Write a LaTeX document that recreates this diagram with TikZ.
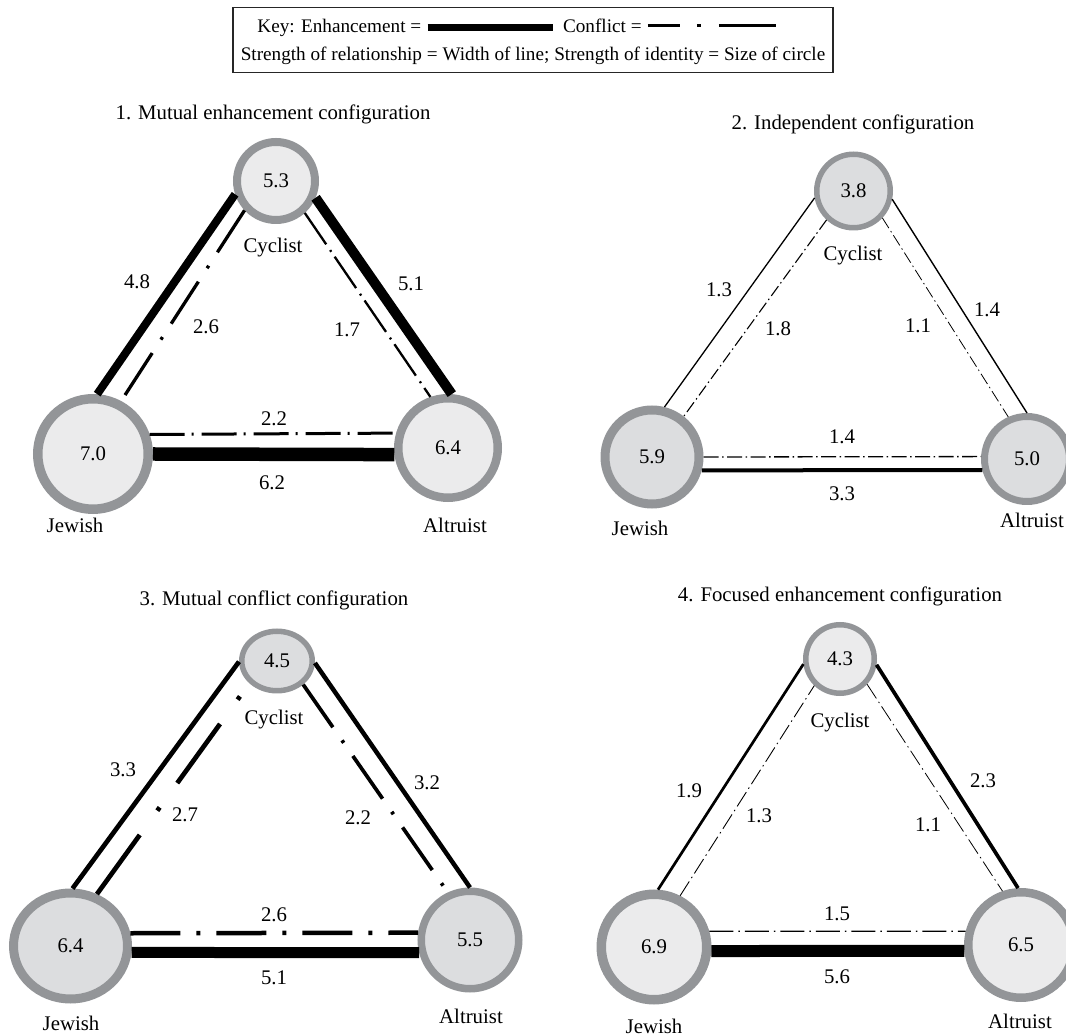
\documentclass[tikz,border=0pt]{standalone}
\usepackage{fontspec}
\setmainfont{Liberation Serif}
\usetikzlibrary{shapes.geometric}
\definecolor{ringgray}{HTML}{939598}
\definecolor{idlight}{HTML}{EBEBEC}
\definecolor{iddark}{HTML}{DCDDDF}
\begin{document}
\begin{tikzpicture}[x=0.5pt, y=-0.5pt,
    every node/.style={font=\fontsize{10.4}{12}\selectfont, inner sep=0pt},
    keytext/.style={font=\fontsize{9.6}{11}\selectfont},
    ident/.style={draw=ringgray, fill=#1},
    enh/.style={line width=#1pt},
    conf/.style={line width=#1pt}]
\useasboundingbox (0,0) rectangle (1066,1036);

% Key
\draw[black!85, line width=0.7pt] (233,7.5) rectangle (833,72.5);
\node[keytext, anchor=base west] (keyenh) at (257,32.5) {Key: Enhancement =};
\draw[line width=3.5pt] ([xshift=3pt]keyenh.east) -- ++(62.5pt,0);
\node[keytext, anchor=base west] (keyconf) at ([xshift=70.5pt]keyenh.base east) {Conflict =};
\draw[line width=1.5pt, dash pattern=on 16pt off 8.5pt on 2pt off 9pt on 28.5pt off 5pt]
    ([xshift=3pt]keyconf.east) -- ++(64pt,0);
\node[keytext, anchor=base] (keynote) at (533,60.5) {Strength of relationship = Width of line; Strength of identity = Size of circle};

% 1. Mutual enhancement
\node[anchor=base] (title1) at (273,120) {1. Mutual enhancement configuration};
\node[ident=idlight, circle, line width=4pt, minimum size=39pt] (cyc1) at (276,181) {5.3};
\node[ident=idlight, circle, line width=4.75pt, minimum size=55.25pt] (jew1) at (93,454) {7.0};
\node[ident=idlight, circle, line width=4.25pt, minimum size=49.75pt] (alt1) at (448,448) {6.4};
\node[anchor=base] (cname1) at (273,253) {Cyclist};
\node[anchor=base] (jname1) at (75,533) {Jewish};
\node[anchor=base] (aname1) at (455,533) {Altruist};

\draw[enh=4] (jew1.86) -- (cyc1.198);
\draw[conf=1.65, dash pattern=on 25pt off 8pt on 1.5pt off 8pt] (cyc1.223) -- (jew1.62);
\draw[enh=5] (cyc1.337) -- (alt1.86);
\draw[conf=1.15, dash pattern=on 19pt off 3.5pt on 1pt off 3pt] (cyc1.312) -- (alt1.109);
\draw[conf=1.5, dash pattern=on 17.5pt off 3.5pt on 1pt off 4pt] (jew1.19) -- (alt1.164);
\draw[enh=6.75] (jew1.0) -- (alt1.187);

\node (en1jc) at (137,282) {4.8};
\node (co1jc) at (206,327) {2.6};
\node (en1ca) at (411,284) {5.1};
\node (co1ca) at (347,330) {1.7};
\node (co1ja) at (274,419) {2.2};
\node (en1ja) at (272,483) {6.2};

% 2. Independent
\node[anchor=base] (title2) at (853,130) {2. Independent configuration};
\node[ident=iddark, circle, line width=2.75pt, minimum size=36.75pt] (cyc2) at (853.5,191) {3.8};
\node[ident=iddark, circle, line width=4.5pt, minimum size=47pt] (jew2) at (652,457) {5.9};
\node[ident=iddark, circle, line width=3.5pt, minimum size=42.5pt] (alt2) at (1027,459) {5.0};
\node[anchor=base] (cname2) at (853,261) {Cyclist};
\node[anchor=base] (jname2) at (640,536) {Jewish};
\node[anchor=base] (aname2) at (1032,528) {Altruist};

\draw[enh=0.65] (jew2.76) -- (cyc2.190);
\draw[conf=0.55, dash pattern=on 6pt off 1.75pt on 0.75pt off 1.75pt] (cyc2.227) -- (jew2.52);
\draw[enh=0.7] (cyc2.348) -- (alt2.90);
\draw[conf=0.4, dash pattern=on 6pt off 1.75pt on 0.75pt off 1.75pt] (cyc2.317) -- (alt2.114);
\draw[conf=0.65, dash pattern=on 7.5pt off 1.75pt on 0.75pt off 1.75pt] (jew2.0) -- (alt2.177);
\draw[enh=2] (jew2.345) -- (alt2.194);

\node (en2jc) at (719,290) {1.3};
\node (co2jc) at (778,329) {1.8};
\node (en2ca) at (987,310) {1.4};
\node (co2ca) at (918,326) {1.1};
\node (co2ja) at (842,437) {1.4};
\node (en2ja) at (842,494) {3.3};

% 3. Mutual conflict
\node[anchor=base] (title3) at (274,606) {3. Mutual conflict configuration};
\node[ident=iddark, ellipse, line width=2.75pt, minimum width=35.25pt, minimum height=29.75pt] (cyc3) at (277,661) {4.5};
\node[ident=iddark, ellipse, line width=4.5pt, minimum width=57pt, minimum height=53pt] (jew3) at (70.5,946) {6.4};
\node[ident=iddark, circle, line width=3.75pt, minimum size=48.75pt] (alt3) at (470,940) {5.5};
\node[anchor=base] (cname3) at (274,725) {Cyclist};
\node[anchor=base] (jname3) at (71,1030) {Jewish};
\node[anchor=base] (aname3) at (471,1023) {Altruist};

\draw[enh=2.35] (jew3.88) -- (cyc3.181);
\draw[conf=2.35, dash pattern=on 36.5pt off 15pt on 2pt off 15pt] (jew3.63) -- (cyc3.219);
\draw[enh=2.25] (cyc3.357) -- (alt3.90);
\draw[conf=1.85, dash pattern=on 26pt off 8pt on 1.5pt off 8pt] (cyc3.318) -- (alt3.115);
\draw[conf=2.25, dash pattern=on 25pt off 8pt on 2pt off 8pt] (jew3.12) -- (alt3.172);
\draw[enh=5.5] (jew3.354) -- (alt3.194);

\node (en3jc) at (123,770) {3.3};
\node (co3jc) at (185,815) {2.7};
\node (en3ca) at (427,783) {3.2};
\node (co3ca) at (358,818) {2.2};
\node (co3ja) at (274,915) {2.6};
\node (en3ja) at (274,978) {5.1};

% 4. Focused enhancement
\node[anchor=base] (title4) at (840,602) {4. Focused enhancement configuration};
\node[ident=idlight, circle, line width=2.75pt, minimum size=34.25pt] (cyc4) at (840,659) {4.3};
\node[ident=idlight, circle, line width=4.75pt, minimum size=52.75pt] (jew4) at (654,947) {6.9};
\node[ident=idlight, circle, line width=4.25pt, minimum size=52.75pt] (alt4) at (1021,945) {6.5};
\node[anchor=base] (cname4) at (840,728) {Cyclist};
\node[anchor=base] (jname4) at (654,1033) {Jewish};
\node[anchor=base] (aname4) at (1020,1028) {Altruist};

\draw[enh=1.35] (jew4.86) -- (cyc4.188);
\draw[conf=0.45, dash pattern=on 8.5pt off 2pt on 0.75pt off 2pt] (jew4.63) -- (cyc4.226);
\draw[enh=1.85] (cyc4.351) -- (alt4.93);
\draw[conf=0.4, dash pattern=on 8.5pt off 2pt on 0.75pt off 2pt] (cyc4.317) -- (alt4.109);
\draw[conf=0.6, dash pattern=on 12pt off 2.5pt on 0.75pt off 2.5pt] (jew4.16) -- (alt4.166);
\draw[enh=6] (jew4.356) -- (alt4.186);

\node (en4jc) at (689,791) {1.9};
\node (co4jc) at (759,816) {1.3};
\node (en4ca) at (983,781) {2.3};
\node (co4ca) at (928,825) {1.1};
\node (co4ja) at (837,914) {1.5};
\node (en4ja) at (837,977) {5.6};
\end{tikzpicture}
\end{document}
